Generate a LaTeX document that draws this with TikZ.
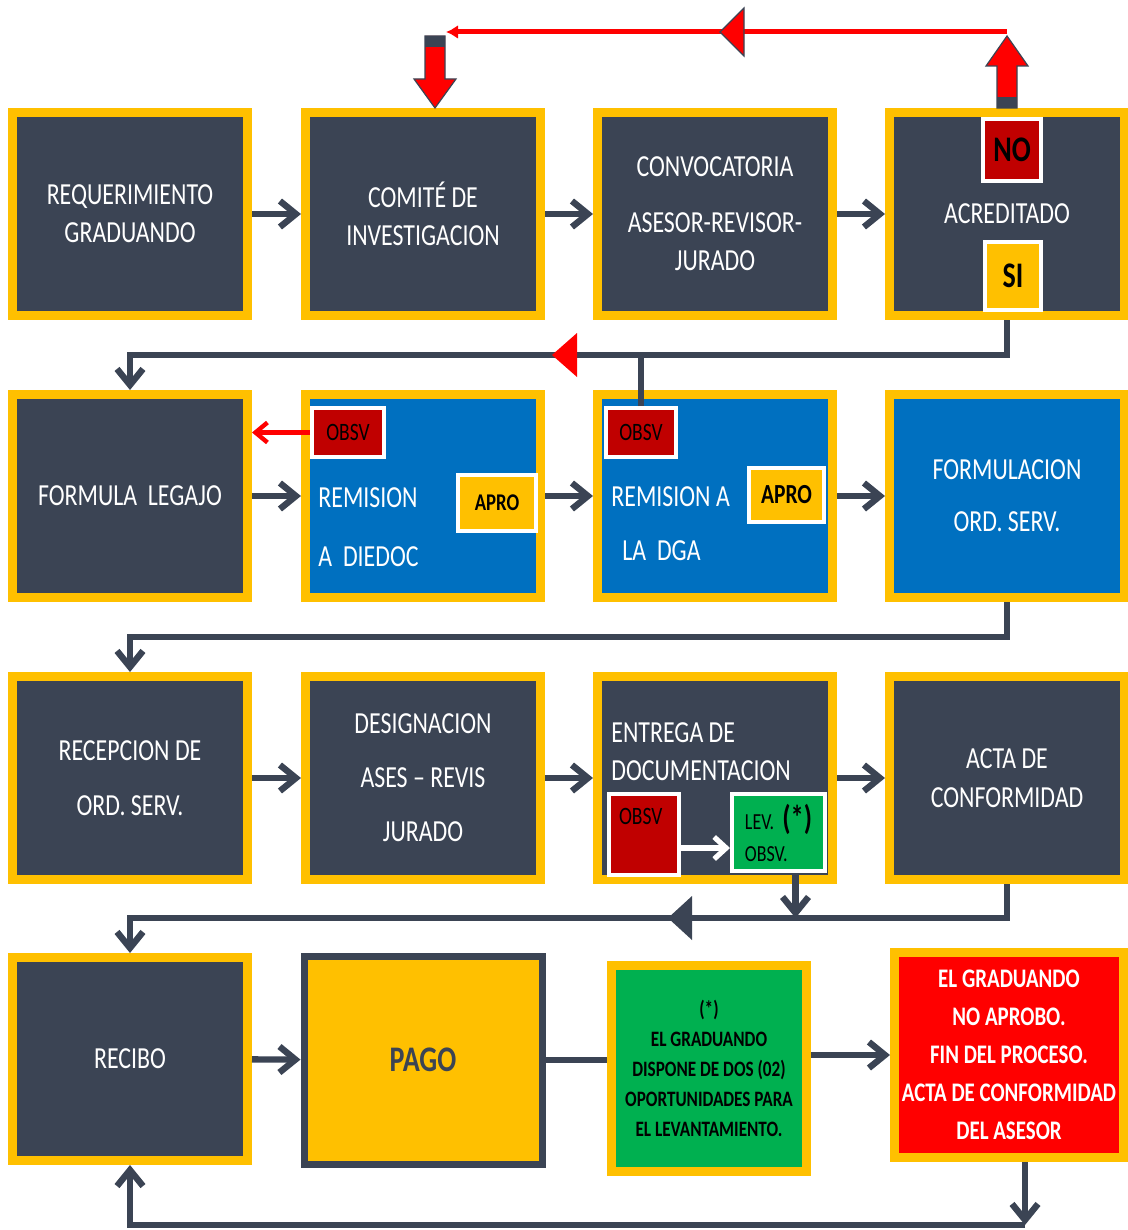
\documentclass[tikz,border=0pt]{standalone}
\usepackage{fontspec}
\setmainfont{Carlito}[FakeStretch=0.78]
\usetikzlibrary{arrows.meta}
\definecolor{slate}{RGB}{59,68,84}
\definecolor{ylw}{RGB}{255,192,0}
\definecolor{blu}{RGB}{0,112,192}
\definecolor{dred}{RGB}{192,0,0}
\definecolor{grn}{RGB}{0,176,80}
\definecolor{rd}{RGB}{255,0,0}
\newcommand{\fsz}[2]{\fontsize{#1}{#2}\selectfont}

\begin{document}
\begin{tikzpicture}[x=0.5pt, y=-0.5pt,
	stage/.style={draw=ylw, line width=4.5pt, fill=slate, text=white, minimum width=117.5pt, minimum height=101.5pt, inner sep=0pt, align=center, font=\fsz{15.3}{19}},
	bluestage/.style={stage, fill=blu},
	tag/.style={draw=white, line width=2pt, inner sep=0pt, text=black, font=\fsz{12.5}{14}},
	txt/.style={text=white, inner sep=0pt, align=left, font=\fsz{15.3}{19}},
	arr/.style={draw=slate, line width=3.2pt, -{Straight Barb[length=8pt,width=13pt]}},
	link/.style={draw=slate, line width=3pt},
	redarr/.style={draw=rd, line width=2.2pt, -{Straight Barb[length=6pt,width=10pt]}},
	whitearr/.style={draw=white, line width=2.6pt, -{Straight Barb[length=6pt,width=11pt]}},
	blockarr/.style={fill=rd, draw=slate, line width=0.6pt}]
	\useasboundingbox (0,0) rectangle (1128,1230);

	% row 1
	\node[stage] (req) at (130,214) {REQUERIMIENTO\\GRADUANDO};
	\node[stage] (comite) at (423,214) {COMITÉ DE\\INVESTIGACION};
	\node[stage] (conv) at (715,214) {CONVOCATORIA\\[9pt]ASESOR-REVISOR-\\JURADO};
	\node[stage] (acred) at (1007,214) {ACREDITADO};
	\node[tag, fill=dred, minimum width=29pt, minimum height=31pt, font=\bfseries\fsz{18}{18}] (no) at (1012,150) {NO};
	\node[tag, fill=ylw, minimum width=28pt, minimum height=34pt, font=\bfseries\fsz{18}{18}] (si) at (1013,276) {SI};
	\draw[arr] (req) -- (comite);
	\draw[arr] (comite) -- (conv);
	\draw[arr] (conv) -- (acred);

	% vuelta a comite
	\filldraw[blockarr] ([xshift=-5pt]acred.north) -- ++(0,21pt) -- ++(-5.5pt,0) -- ++(10.5pt,15pt) -- ++(10.5pt,-15pt) -- ++(-5.5pt,0) -- ++(0,-21pt) -- cycle;
	\fill[slate] ([xshift=-5pt]acred.north) rectangle ++(10pt,5.5pt);
	\draw[draw=rd, line width=2.5pt, -{Latex[length=6pt,width=7pt]}] ([yshift=38pt]acred.north) -- ([xshift=11.5pt,yshift=38pt]comite.north);
	\filldraw[blockarr] ([xshift=2.5pt,yshift=38pt]conv.north) -- ++(12pt,12pt) -- ++(0,-24pt) -- cycle;
	\filldraw[blockarr] ([xshift=6pt]comite.north) -- ++(-10.5pt,14.5pt) -- ++(5.5pt,0) -- ++(0,21.5pt) -- ++(10pt,0) -- ++(0,-21.5pt) -- ++(5.5pt,0) -- cycle;
	\fill[slate] ([xshift=1pt,yshift=30.5pt]comite.north) rectangle ++(10pt,5.5pt);

	% row 2
	\node[stage] (legajo) at (130,496) {FORMULA\ \ LEGAJO};
	\node[bluestage] (diedoc) at (423,496) {};
	\node[bluestage] (dga) at (715,496) {};
	\node[bluestage, font=\fsz{15.3}{26}] (formord) at (1007,496) {FORMULACION\\ORD. SERV.};
	\node[txt, anchor=west, font=\fsz{15.3}{29.5}] (diedoctxt) at (318,527) {REMISION\\A\ \ DIEDOC};
	\node[txt, anchor=west, font=\fsz{15.3}{27}] (dgatxt) at (611,524) {REMISION A\\\hspace*{5.5pt}LA\ \ DGA};
	\node[tag, fill=dred, minimum width=36pt, minimum height=24.5pt] (obsva) at (348,432.5) {OBSV};
	\node[tag, fill=ylw, minimum width=39pt, minimum height=28pt, font=\bfseries\fsz{12}{14}] (aproa) at (497,503) {APRO};
	\node[tag, fill=dred, minimum width=35pt, minimum height=24.5pt] (obsvb) at (641,432.5) {OBSV};
	\node[tag, fill=ylw, minimum width=37.5pt, minimum height=27pt, font=\bfseries\fsz{13.8}{14}] (aprob) at (786.5,495) {APRO};

	\coordinate (j1) at (1007,355);
	\draw[arr] (acred.south) -- (j1) -| (legajo.north);
	\fill[rd] (552,355) -- ++(12.5pt,11pt) -- ++(0,-22pt) -- cycle;
	\draw[link] (obsvb.north) -- (obsvb.north |- j1);
	\draw[arr] (legajo) -- (diedoc);
	\draw[arr] (diedoc) -- (dga);
	\draw[arr] (dga) -- (formord);
	\draw[redarr] (obsva.west) -- (obsva.west -| legajo.east);

	% row 3
	\node[stage, font=\fsz{15.3}{27.5}] (recep) at (130,778) {RECEPCION DE\\ORD. SERV.};
	\node[stage, font=\fsz{15.3}{27}] (design) at (423,778) {DESIGNACION\\ASES – REVIS\\JURADO};
	\node[stage] (entrega) at (715,778) {};
	\node[stage, font=\fsz{15.3}{19.5}] (acta) at (1007,778) {ACTA DE\\CONFORMIDAD};
	\node[txt, anchor=west] (entregatxt) at (611,752) {ENTREGA DE\\DOCUMENTACION};
	\node[tag, fill=dred, minimum width=35pt, minimum height=40.5pt] (obsvc) at (644,834.5) {};
	\node[tag, draw=none, anchor=north west] (obsvctxt) at (617,806) {OBSV};
	\node[tag, fill=grn, minimum width=46.5pt, minimum height=38.5pt, align=left, font=\fsz{11.5}{16}] (lev) at (778.5,832.5) {LEV.\ \ {\bfseries\fsz{17}{17}(*)}\\OBSV.};

	\coordinate (j2) at (1007,637);
	\draw[arr] (formord.south) -- (j2) -| (recep.north);
	\draw[arr] (recep) -- (design);
	\draw[arr] (design) -- (entrega);
	\draw[arr] (entrega) -- (acta);
	\draw[whitearr] ([yshift=-6.75pt]obsvc.east) -- ([yshift=-7.75pt]lev.west);

	% row 4
	\node[stage] (recibo) at (130,1059) {RECIBO};
	\node[stage, draw=slate, fill=ylw, line width=3.5pt, minimum width=119pt, minimum height=104pt, text=slate, font=\bfseries\fsz{18}{18}] (pago) at (423,1060) {PAGO};
	\node[stage, fill=grn, text=black, minimum width=97.5pt, minimum height=103pt, font=\bfseries\fsz{11}{15}] (plazo) at (709,1068) {(*)\\EL GRADUANDO\\DISPONE DE DOS (02)\\OPORTUNIDADES PARA\\EL LEVANTAMIENTO.};
	\node[stage, fill=rd, minimum width=114.5pt, minimum height=102.5pt, font=\bfseries\fsz{13.4}{19}] (fin) at (1009,1055) {EL GRADUANDO\\NO APROBO.\\FIN DEL PROCESO.\\ACTA DE CONFORMIDAD\\DEL ASESOR};

	\coordinate (j3) at (1007,918);
	\draw[arr] (acta.south) -- (j3) -| (recibo.north);
	\fill[slate] (668,918) -- ++(12pt,11pt) -- ++(0,-22pt) -- cycle;
	\draw[arr] ([xshift=8.5pt]lev.south) -- ([xshift=8.5pt]lev.south |- j3);
	\draw[arr] (recibo) -- (pago);
	\draw[link] (pago.east) -- (pago.east -| plazo.west);
	\draw[arr] (plazo.east |- fin.west) -- (fin.west);
	\coordinate (j4) at (1025,1225);
	\draw[arr] ([xshift=8pt]fin.south) -- (j4);
	\draw[arr] (j4) -| (recibo.south);
\end{tikzpicture}
\end{document}
